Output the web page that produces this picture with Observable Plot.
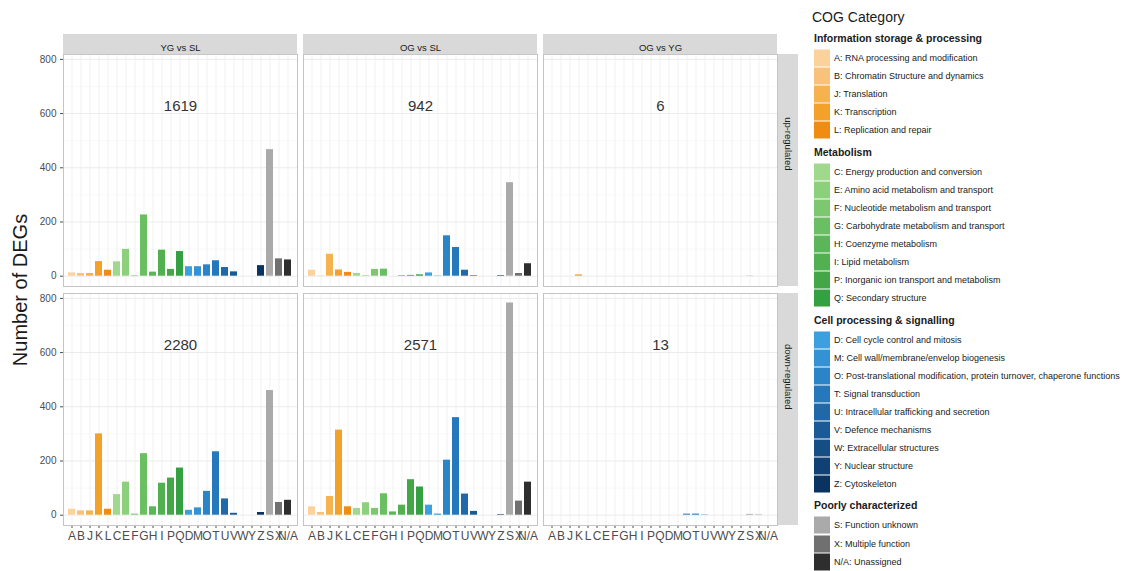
<!DOCTYPE html>
<html><head><meta charset="utf-8">
<script src="https://cdn.jsdelivr.net/npm/d3@7"></script>
<script src="https://cdn.jsdelivr.net/npm/@observablehq/plot@0.6"></script>
<style>
body{margin:0;background:#fff;font-family:"Liberation Sans",Arial,sans-serif;}
#wrap{position:relative;width:1138px;height:571px;overflow:hidden;}
#chart{position:absolute;left:0;top:0;}
#ytitle{position:absolute;left:20px;top:290px;transform:translate(-50%,-50%) rotate(-90deg);font-size:20px;white-space:nowrap;color:#1a1a1a;}
.lg{position:absolute;white-space:nowrap;transform:translateY(-50%);color:#1a1a1a;}
.lg-title{font-size:14px;left:812px;}
.lg-head{font-size:10.5px;font-weight:bold;left:814px;}
.lg-item{font-size:9px;left:834px;}
.lg-key{position:absolute;left:814px;width:16px;height:17px;transform:translateY(-50%);}
g[aria-label^="x-axis"] text{font-size:12px;}
</style></head><body>
<div id="wrap"><div id="chart"></div><div id="ytitle">Number of DEGs</div><div id="legend"></div></div>
<script>
const categories = ["A","B","J","K","L","C","E","F","G","H","I","P","Q","D","M","O","T","U","V","W","Y","Z","S","X","N/A"];
const comparisons = ["YG vs SL","OG vs SL","OG vs YG"];
const regulations = ["up-regulated","down-regulated"];

const upYGvsSL   = [12,10,10,54,22,53,99,2,226,15,96,25,91,35,35,42,57,32,16,0,0,39,467,64,60];
const upOGvsSL   = [22,1,81,23,14,10,2,25,26,0,2,3,5,12,1,149,106,22,2,0,0,2,345,10,46];
const upOGvsYG   = [0,0,0,5,0,0,0,0,0,0,0,0,0,0,0,0,0,0,0,0,0,0,1,0,0];
const downYGvsSL = [22,16,16,300,22,76,122,4,227,31,118,137,174,18,27,88,234,60,7,0,0,10,460,47,55];
const downOGvsSL = [31,10,69,314,31,25,46,25,79,12,37,131,104,37,4,203,360,78,14,0,0,2,783,52,122];
const downOGvsYG = [0,0,0,0,0,0,0,0,0,0,0,0,0,0,0,4,4,1,0,0,0,0,3,1,0];

const totalsUp   = [1619, 942, 6];
const totalsDown = [2280, 2571, 13];

const colors = ["#fbd29c","#f9c27a","#f6b24f","#f4a12a","#f08c12",
  "#a0d98e","#8dd07c","#7dc86f","#69bf61","#5bb659","#52b050","#43a748","#33a041",
  "#3b9fe0","#3391d4","#2b84c8","#2678bc","#2068a8","#1a5a96","#154d85","#104074","#0b3362",
  "#aaaaaa","#707070","#2e2e2e"];
const descriptions = ["RNA processing and modification","Chromatin Structure and dynamics","Translation","Transcription","Replication and repair",
  "Energy production and conversion","Amino acid metabolism and transport","Nucleotide metabolism and transport","Carbohydrate metabolism and transport","Coenzyme metabolism","Lipid metabolism","Inorganic ion transport and metabolism","Secondary structure",
  "Cell cycle control and mitosis","Cell wall/membrane/envelop biogenesis","Post-translational modification, protein turnover, chaperone functions","Signal transduction","Intracellular trafficking and secretion","Defence mechanisms","Extracellular structures","Nuclear structure","Cytoskeleton",
  "Function unknown","Multiple function","Unassigned"];
const groupNames = ["Information storage & processing","Metabolism","Cell processing & signalling","Poorly characterized"];
const groupSizes = [5, 8, 9, 3];
const yTicks = [0, 200, 400, 600, 800];
const yMinor = [100, 300, 500, 700];

// build table
const series = [[upYGvsSL, upOGvsSL, upOGvsYG], [downYGvsSL, downOGvsSL, downOGvsYG]];
const rows = [];
regulations.forEach((reg, r) => comparisons.forEach((comp, c) => categories.forEach((cat, k) =>
  rows.push({reg, comp, cat, value: series[r][c][k]}))));
const totalRows = [];
[totalsUp, totalsDown].forEach((t, r) => comparisons.forEach((comp, c) => totalRows.push({reg: regulations[r], comp, total: t[c]})));
const stripTop = comparisons.map(comp => ({comp, reg: regulations[0]}));
const stripRight = regulations.map(reg => ({comp: comparisons[comparisons.length - 1], reg}));

const W = 800, H = 550, mL = 62, mR = 23, mT = 54, mB = 25;
const fxPad = 0.027, fyPad = 0.03;
const panelW = (W - mL - mR) * (1 - fxPad) / (comparisons.length - fxPad);
const panelH = (H - mT - mB) * (1 - fyPad) / (regulations.length - fyPad);

const plot = Plot.plot({
  width: W, height: H, marginLeft: mL, marginRight: mR, marginTop: mT, marginBottom: mB,
  style: {fontFamily: "Liberation Sans, Arial, sans-serif", fontSize: "10px", color: "#4d4d4d", background: "transparent"},
  fx: {domain: comparisons, axis: null, paddingInner: fxPad, paddingOuter: 0, label: null},
  fy: {domain: regulations, axis: null, paddingInner: fyPad, paddingOuter: 0, label: null},
  x: {domain: categories, paddingInner: 0.18, paddingOuter: 0.04, tickSize: 3, tickPadding: 3, label: null},
  y: {domain: [-38, 818], ticks: yTicks, tickSize: 3, tickPadding: 4, label: null},
  color: {domain: categories, range: colors},
  marks: [
    Plot.ruleY(yMinor, {stroke: "#f3f3f3", strokeWidth: 0.6}),
    Plot.ruleY(yTicks, {stroke: "#ebebeb", strokeWidth: 1}),
    Plot.ruleX(categories, {stroke: "#ededed", strokeWidth: 0.8}),
    Plot.barY(rows, {fx: "comp", fy: "reg", x: "cat", y: "value", fill: "cat"}),
    Plot.frame({stroke: "#c4c4c4"}),
    Plot.rect(stripTop, {fx: "comp", fy: "reg", fill: "#d9d9d9", insetTop: -20, insetBottom: panelH}),
    Plot.rect(stripRight, {fx: "comp", fy: "reg", fill: "#d9d9d9", insetLeft: panelW + 1, insetRight: -21}),
    Plot.text(stripTop, {fx: "comp", fy: "reg", text: "comp", frameAnchor: "top", dy: -10, fontSize: 9.5, fill: "#1a1a1a"}),
    Plot.text(stripRight, {fx: "comp", fy: "reg", text: "reg", frameAnchor: "right", dx: 11, rotate: 90, fontSize: 9.5, fill: "#1a1a1a"}),
    Plot.text(totalRows, {fx: "comp", fy: "reg", text: d => String(d.total), frameAnchor: "top", dy: 46, fontSize: 15, fill: "#333"})
  ]
});
document.getElementById("chart").appendChild(plot);

// legend
const lg = document.getElementById("legend");
function add(cls, text, top, extra) {
  const d = document.createElement("div");
  d.className = cls; d.textContent = text; d.style.top = top + "px";
  if (extra) Object.assign(d.style, extra);
  lg.appendChild(d);
}
add("lg lg-title", "COG Category", 17);
let y = 38, k = 0;
groupNames.forEach((g, gi) => {
  add("lg lg-head", g, y);
  let iy = y + 20;
  for (let j = 0; j < groupSizes[gi]; j++, k++) {
    add("lg-key", "", iy, {background: colors[k]});
    add("lg lg-item", categories[k] + ": " + descriptions[k], iy);
    if (j < groupSizes[gi] - 1) iy += 18.05;
  }
  y = iy + 21.5;
});
</script>
</body></html>
